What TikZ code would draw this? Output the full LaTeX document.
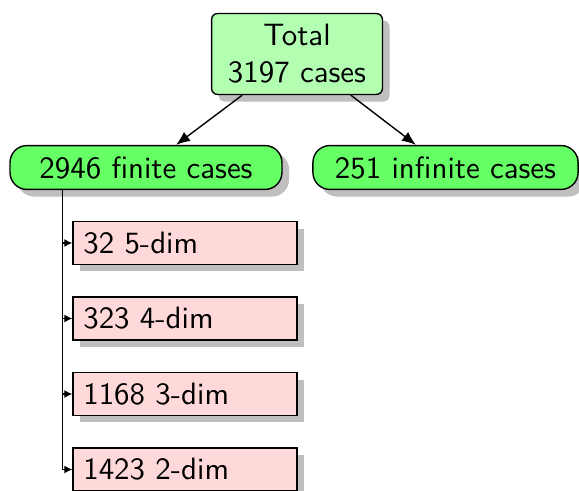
\documentclass[tikz,border=0pt]{standalone}
\usetikzlibrary{shadows,arrows.meta}
\begin{document}
\begin{tikzpicture}[x=0.3236pt,y=-0.3236pt,
  font=\sffamily,
  shad/.style={drop shadow={shadow xshift=2.3pt,shadow yshift=-2.3pt,fill=black!25,opacity=1}},
  topbox/.style={draw,fill=green!30,rounded corners=2pt,align=center,minimum width=55.3pt,minimum height=26.2pt,inner sep=0pt,shad},
  casebox/.style={draw,fill=green!60,rounded corners=5.5pt,minimum height=14.2pt,inner sep=0pt,shad},
  dimbox/.style={draw,fill=red!15,minimum height=13.8pt,text width=65.8pt,align=left,inner ysep=0pt,shad},
  bigarrow/.style={-{Latex[length=4.5pt,width=3.6pt]}},
  smallarrow/.style={-{Latex[length=2.6pt,width=2.6pt]}},
  line width=0.45pt
]
\useasboundingbox (0,0) rectangle (579,491);
\node[topbox] (total) at (297,54) {Total\\3197 cases};
\node[casebox,minimum width=88pt] (finite) at (146,167.5) {2946 finite cases};
\node[casebox,minimum width=85.8pt] (infinite) at (445.5,167.5) {251 infinite cases};
\draw[bigarrow] (total) -- (finite);
\draw[bigarrow] (total) -- (infinite);
\node[dimbox] (d5) at (185,243) {32 5-dim};
\node[dimbox] (d4) at (185,318.5) {323 4-dim};
\node[dimbox] (d3) at (185,394) {1168 3-dim};
\node[dimbox] (d2) at (185,469.5) {1423 2-dim};
\coordinate (vend) at (62.7,469.5);
\draw (finite.south -| vend) -- (vend);
\draw[smallarrow] (d5.west -| vend) -- (d5.west);
\draw[smallarrow] (d4.west -| vend) -- (d4.west);
\draw[smallarrow] (d3.west -| vend) -- (d3.west);
\draw[smallarrow] (d2.west -| vend) -- (d2.west);
\end{tikzpicture}
\end{document}
